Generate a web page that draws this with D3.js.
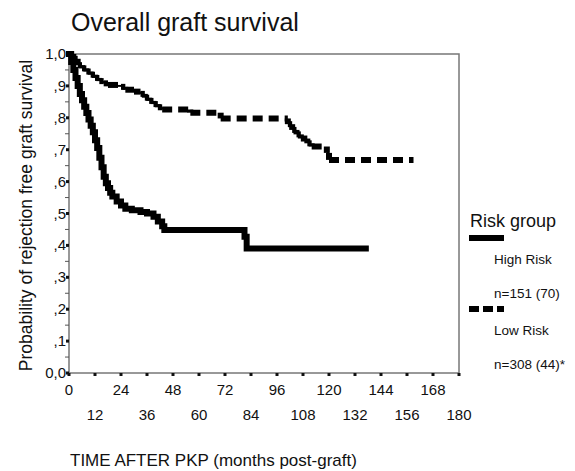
<!DOCTYPE html>
<html>
<head>
<meta charset="utf-8">
<script src="https://cdn.jsdelivr.net/npm/d3@7"></script>
<style>
  body { margin: 0; background: #fff; }
  text { font-family: "Liberation Sans", Arial, sans-serif; fill: #111; }
</style>
</head>
<body>
<svg id="chart" width="575" height="471"></svg>
<script>
// Kaplan-Meier steps (months, survival)
const highRiskMonths = [0, 1, 2, 3, 4, 5, 6, 7, 8, 9, 10, 11, 12, 13, 14, 15, 16, 17, 18, 19, 20, 22, 24, 26, 29, 33, 36, 39, 41, 43, 44, 81, 82, 137];
const highRiskSurvival = [1.0, 0.975, 0.95, 0.925, 0.9, 0.875, 0.855, 0.835, 0.815, 0.795, 0.775, 0.755, 0.73, 0.705, 0.675, 0.645, 0.615, 0.595, 0.58, 0.565, 0.553, 0.538, 0.525, 0.515, 0.51, 0.505, 0.5, 0.49, 0.475, 0.46, 0.448, 0.427, 0.39, 0.39];

const lowRiskMonths = [0, 2, 4, 6, 8, 10, 12, 14, 16, 18, 24, 26, 30, 33, 35, 37, 39, 41, 43, 56, 70, 101, 103, 105, 107, 110, 112, 119, 120, 159];
const lowRiskSurvival = [1.0, 0.985, 0.965, 0.955, 0.945, 0.935, 0.925, 0.915, 0.908, 0.903, 0.897, 0.888, 0.882, 0.875, 0.863, 0.853, 0.843, 0.833, 0.826, 0.816, 0.798, 0.78, 0.762, 0.748, 0.735, 0.72, 0.71, 0.69, 0.668, 0.668];

const xTickValues = d3.range(0, 181, 12);
const yTickValues = [0, 0.1, 0.2, 0.3, 0.4, 0.5, 0.6, 0.7, 0.8, 0.9, 1.0];
const yTickLabels = ["0,0", ",1", ",2", ",3", ",4", ",5", ",6", ",7", ",8", ",9", "1,0"];

const legendTitle = "Risk group";
const legendItems = [
  { name: "High Risk", n: "n=151 (70)", dashed: false },
  { name: "Low Risk", n: "n=308 (44)*", dashed: true }
];

const svg = d3.select("#chart");
const plotLeft = 69, plotRight = 459, plotTop = 54, plotBottom = 373;

const x = d3.scaleLinear().domain([0, 180]).range([plotLeft, plotRight]);
const y = d3.scaleLinear().domain([0, 1]).range([plotBottom, plotTop]);

// title
svg.append("text")
  .attr("x", 71).attr("y", 31)
  .style("font-size", "25px")
  .text("Overall graft survival");

// frame
svg.append("rect")
  .attr("x", plotLeft).attr("y", plotTop)
  .attr("width", plotRight - plotLeft).attr("height", plotBottom - plotTop)
  .style("fill", "none").style("stroke", "#777").style("stroke-width", 1.5);

// y minor ticks
svg.selectAll(".yminor")
  .data(d3.range(0.05, 1, 0.1))
  .enter().append("line")
  .attr("x1", plotLeft - 4).attr("x2", plotLeft)
  .attr("y1", d => y(d)).attr("y2", d => y(d))
  .style("stroke", "#555").style("stroke-width", 1);

// y major ticks (little squares)
svg.selectAll(".ymajor")
  .data(yTickValues)
  .enter().append("rect")
  .attr("x", plotLeft - 3).attr("y", d => y(d) - 1.5)
  .attr("width", 3).attr("height", 3)
  .style("fill", "#111");

svg.selectAll(".ylabel")
  .data(yTickValues)
  .enter().append("text")
  .attr("x", plotLeft - 3).attr("y", d => y(d) + 5)
  .attr("text-anchor", "end")
  .style("font-size", "15px")
  .text((d, i) => yTickLabels[i]);

// x ticks
svg.selectAll(".xtick")
  .data(xTickValues)
  .enter().append("rect")
  .attr("x", d => x(d) - 1.5).attr("y", plotBottom)
  .attr("width", 3).attr("height", 3)
  .style("fill", "#111");

// staggered x labels
svg.selectAll(".xlabel")
  .data(xTickValues)
  .enter().append("text")
  .attr("x", d => x(d))
  .attr("y", (d, i) => i % 2 === 0 ? 395 : 420)
  .attr("text-anchor", "middle")
  .style("font-size", "15px")
  .text(d => d);

// axis titles
svg.append("text")
  .attr("x", 70).attr("y", 466)
  .style("font-size", "17px")
  .text("TIME AFTER PKP (months post-graft)");

svg.append("text")
  .attr("transform", `translate(32,${(plotTop + plotBottom) / 2 + 2}) rotate(-90)`)
  .attr("text-anchor", "middle")
  .style("font-size", "17.5px")
  .text("Probability of rejection free graft survival");

// step segments, each restarting its dash pattern like the original
function stepSegments(months, surv) {
  const segs = [];
  for (let i = 0; i < months.length - 1; i++) {
    segs.push([[months[i], surv[i]], [months[i + 1], surv[i]]]);
    if (surv[i + 1] !== surv[i]) segs.push([[months[i + 1], surv[i]], [months[i + 1], surv[i + 1]]]);
  }
  return segs;
}

const line = d3.line().x(d => x(d[0])).y(d => y(d[1]));

// high risk: one continuous solid step path
const highData = highRiskMonths.map((m, i) => [m, highRiskSurvival[i]]);
svg.append("path")
  .attr("d", d3.line().x(d => x(d[0])).y(d => y(d[1])).curve(d3.curveStepAfter)(highData))
  .style("fill", "none").style("stroke", "#000")
  .style("stroke-width", 6).style("stroke-linejoin", "miter").style("stroke-linecap", "square");

// low risk: dashed per segment
svg.selectAll(".low")
  .data(stepSegments(lowRiskMonths, lowRiskSurvival))
  .enter().append("path")
  .attr("d", line)
  .style("fill", "none").style("stroke", "#000")
  .style("stroke-width", 6).style("stroke-dasharray", "10,6");

// legend
svg.append("text")
  .attr("x", 470).attr("y", 227)
  .style("font-size", "18px")
  .text(legendTitle);

const legendY = [238, 309];
legendItems.forEach((item, i) => {
  const ly = legendY[i];
  svg.append("line")
    .attr("x1", 469).attr("x2", 504)
    .attr("y1", ly).attr("y2", ly)
    .style("stroke", "#000").style("stroke-width", 6)
    .style("stroke-dasharray", item.dashed ? "10,4" : null);
  svg.append("text")
    .attr("x", 494).attr("y", ly + 26)
    .style("font-size", "13.5px")
    .text(item.name);
  svg.append("text")
    .attr("x", 494).attr("y", ly + 60)
    .style("font-size", "13.5px")
    .text(item.n);
});
</script>
</body>
</html>
